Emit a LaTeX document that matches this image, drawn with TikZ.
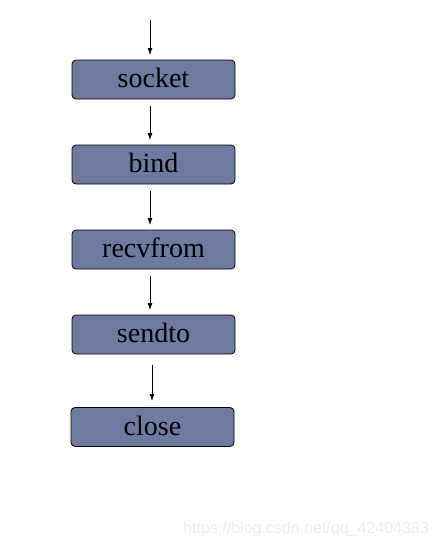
\documentclass[tikz,border=0pt]{standalone}
\usepackage{fontspec}
\setmainfont{Liberation Serif}
\newfontfamily\wmfont{Liberation Sans}
\usetikzlibrary{arrows.meta}
\definecolor{boxfill}{RGB}{111,122,160}
\definecolor{wmgray}{RGB}{236,236,236}
\tikzset{
  fbox/.style={draw=black, line width=0.8pt, fill=boxfill, rounded corners=4pt,
    minimum width=163pt, minimum height=39pt, inner sep=0pt,
    font=\fontsize{28}{28}\selectfont},
  lbl/.style={inner sep=0pt, font=\fontsize{28}{28}\selectfont},
  arr/.style={-{Latex[length=7pt,width=5pt]}, line width=0.8pt}
}
\begin{document}
\begin{tikzpicture}[x=1pt,y=-1pt]
\useasboundingbox (0,0) rectangle (438,549);
\node[fbox] (socket) at (153.5,79.5) {};
\node[fbox] (bind) at (153.5,164.5) {};
\node[fbox] (recv) at (153.5,249.5) {};
\node[fbox] (send) at (153.5,334.5) {};
\node[fbox] (close) at (152.5,427) {};
\node[lbl, anchor=base] (tsocket) at ([yshift=-8pt]socket.center) {socket};
\node[lbl, anchor=base] (tbind) at ([yshift=-8pt]bind.center) {bind};
\node[lbl, anchor=base] (trecv) at ([yshift=-8pt]recv.center) {recvfrom};
\node[lbl, anchor=base] (tsend) at ([yshift=-8pt]send.center) {sendto};
\node[lbl, anchor=base] (tclose) at ([yshift=-8pt]close.center) {close};
\coordinate (start) at (150,20);
\draw[arr] (start) -- (150,55);
\draw[arr] (150,106) -- (150,140);
\draw[arr] (150,191) -- (150,225);
\draw[arr] (150,276) -- (150,310);
\draw[arr] (152,365) -- (152,401);
\node[font=\wmfont\fontsize{16}{16}\selectfont, text=wmgray, anchor=east, inner sep=0pt] (wm) at (429,529) {https://blog.csdn.net/qq\_42404383};
\end{tikzpicture}
\end{document}
